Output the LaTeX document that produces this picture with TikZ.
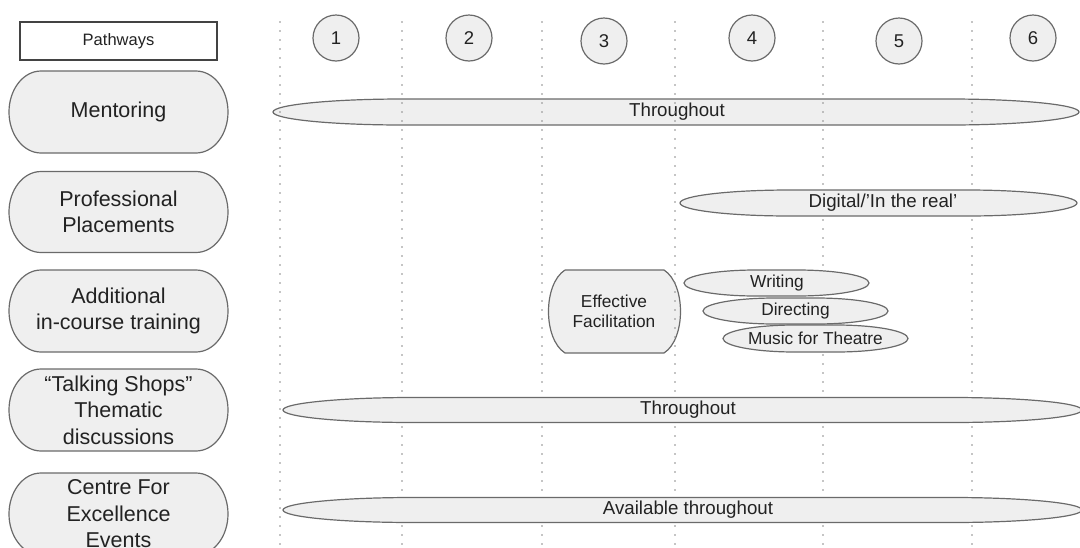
\documentclass[tikz,border=0pt]{standalone}
\usepackage{fontspec}
\setmainfont{Liberation Sans}
\definecolor{shapefill}{HTML}{EFEFEF}
\definecolor{shapeline}{HTML}{6A6A6A}
\definecolor{inkcol}{HTML}{222222}
\definecolor{dotcol}{HTML}{8A8A8A}
% a band with elliptical ends:
% #1 left tip x, #2 right tip x, #3 centre y, #4 half height, #5 length of each end
\newcommand\bandpath[5]{%
  \path[bandstyle] (#1+#5,#3-#4) -- (#2-#5,#3-#4)
    arc[start angle=-90, end angle=90, x radius=#5, y radius=#4]
    -- (#1+#5,#3+#4)
    arc[start angle=90, end angle=270, x radius=#5, y radius=#4] -- cycle;}
\begin{document}
\begin{tikzpicture}[x=1pt,y=-1pt,
  font=\color{inkcol},
  pathway/.style={align=center, font=\fontsize{21.5}{26.5}\selectfont\color{inkcol}},
  stage/.style={circle, draw=shapeline, fill=shapefill, line width=1.2pt,
    minimum size=46pt, inner sep=0pt, font=\fontsize{18.5}{20}\selectfont\color{inkcol}},
  bandstyle/.style={draw=shapeline, fill=shapefill, line width=1.2pt},
  spanlabel/.style={font=\fontsize{18.7}{22}\selectfont\color{inkcol}},
  smalllabel/.style={font=\fontsize{17.3}{20}\selectfont\color{inkcol}},
  divider/.style={draw=dotcol, line width=1.8pt, line cap=round, dash pattern=on 0pt off 9pt}
]
\useasboundingbox (0,0) rectangle (1080,547);

% header box
\node[draw=inkcol!85, fill=white, line width=1.2pt, minimum width=197pt, minimum height=38pt,
  font=\fontsize{16.5}{18}\selectfont\color{inkcol}] (hdr) at (118.5,41) {Pathways};

% pathway labels on the left
\bandpath{9}{228}{112}{41}{32}
\node[pathway] (mentoring) at (118.5,112) {Mentoring};
\bandpath{9}{228}{212}{40.5}{32}
\node[pathway] (placements) at (118.5,212) {Professional\\Placements};
\bandpath{9}{228}{311}{41}{32}
\node[pathway] (training) at (118.5,311) {Additional\\in-course training};
\bandpath{9}{228}{410}{41}{32}
\node[pathway] (talking) at (118.5,410) {“Talking Shops”\\Thematic\\discussions};
\bandpath{9}{228}{514}{41}{32}
\node[pathway] (centre) at (118.5,514) {Centre For\\Excellence\\Events};

% stage numbers
\node[stage] (s1) at (336,38) {1};
\node[stage] (s2) at (469,38) {2};
\node[stage] (s3) at (604,41) {3};
\node[stage] (s4) at (752,38) {4};
\node[stage] (s5) at (899,41) {5};
\node[stage] (s6) at (1033,38) {6};

% shapes lying under the dividers
\bandpath{273}{1079}{112}{13}{130}
\node[spanlabel] (mentortext) at (677,112) {Throughout};

\path[bandstyle]
  (565,270) -- (664,270) .. controls (686,284) and (686,339) .. (664,353)
  -- (565,353) .. controls (543,339) and (543,284) .. (565,270);
\node[smalllabel, align=center] (facil) at (614,311) {Effective\\Facilitation};

% stage dividers
\foreach \x/\n in {280/d1,402/d2,542/d3,675/d4,823/d5,972/d6}{
  \coordinate (\n top) at (\x,22);
  \coordinate (\n bot) at (\x,547);
  \draw[divider] (\n top) -- (\n bot);
}

% bands drawn over the dividers
\bandpath{680}{1077}{203}{13}{110}
\node[spanlabel] (placetext) at (883,203) {Digital/’In the real’};

\bandpath{684}{869}{283}{13}{72}
\node[smalllabel] (writing) at (777,283) {Writing};
\bandpath{703}{888}{311}{13}{72}
\node[smalllabel] (directing) at (795.5,311) {Directing};
\bandpath{723}{908}{338.5}{13.5}{72}
\node[smalllabel] (music) at (815.5,338.5) {Music for Theatre};

\bandpath{283}{1082}{410}{12.5}{130}
\node[spanlabel] (talktext) at (688,410) {Throughout};

\bandpath{283}{1082}{510}{12.5}{130}
\node[spanlabel] (centretext) at (688,510) {Available throughout};
\end{tikzpicture}
\end{document}
